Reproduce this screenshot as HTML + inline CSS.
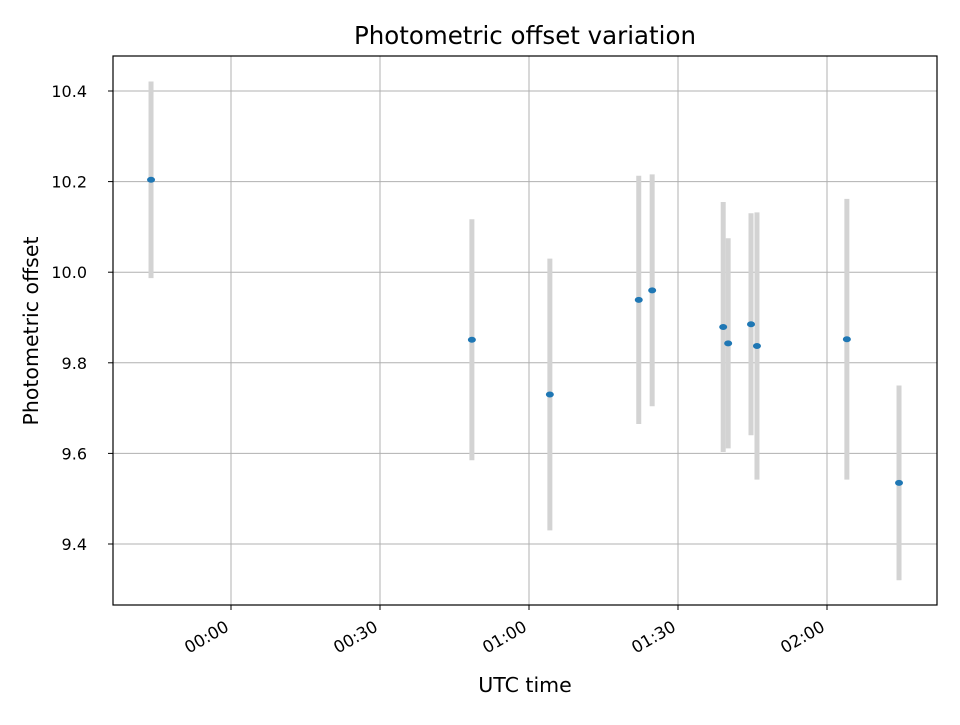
<!DOCTYPE html>
<html><head><meta charset="utf-8"><style>
body{margin:0;background:#fff;font-family:"Liberation Sans","DejaVu Sans",sans-serif;}
svg text{font-family:"DejaVu Sans","Liberation Sans",sans-serif;}
</style></head><body>
<svg id="chart" width="960" height="720" xmlns="http://www.w3.org/2000/svg">
<rect width="960" height="720" fill="#fff"/>
<g id="grid"></g><g id="err"></g><g id="pts"></g><g id="ticks"></g>
<rect x="113" y="56" width="824" height="549" fill="none" stroke="#000" stroke-width="1.2"/>
<text x="525" y="44" font-size="24.5" text-anchor="middle">Photometric offset variation</text>
<text x="525" y="692" font-size="20.5" text-anchor="middle">UTC time</text>
<text transform="translate(38,331) rotate(-90)" font-size="20.5" text-anchor="middle">Photometric offset</text>
</svg>
<script>
// minutes relative to 00:00 UTC
const times=[-16.1,48.5,64.2,82.1,84.8,99.1,100.1,104.7,105.9,124.0,134.5];
const offsets=[10.204,9.851,9.73,9.939,9.96,9.879,9.843,9.885,9.837,9.852,9.535];
const errors=[0.217,0.266,0.3,0.274,0.256,0.276,0.232,0.245,0.295,0.31,0.215];
const yTicks=[9.4,9.6,9.8,10.0,10.2,10.4];
const yTickLabels=["9.4","9.6","9.8","10.0","10.2","10.4"];
const xTicks=[0,30,60,90,120];
const xTickLabels=["00:00","00:30","01:00","01:30","02:00"];

const NS="http://www.w3.org/2000/svg";
const X=m=>231+m*(149/30);
const Y=v=>544-(v-9.4)*453;
function mk(tag,attrs,parent){const e=document.createElementNS(NS,tag);for(const k in attrs)e.setAttribute(k,attrs[k]);document.getElementById(parent).appendChild(e);return e;}

yTicks.forEach((v,i)=>{
  const y=Y(v);
  const g=mk('line',{x1:113,x2:937,y1:y,y2:y,stroke:'#b0b0b0','stroke-width':1},'grid');
  
  
  const t=mk('line',{x1:108,x2:113,y1:y,y2:y,stroke:'#000'},'ticks');
  
  
  const l=mk('text',{x:87,y:y+6,'font-size':16,'text-anchor':'end'},'ticks');
  l.textContent=yTickLabels[i];
  
  
});
xTicks.forEach((m,i)=>{
  const x=X(m);
  const g=mk('line',{x1:x,x2:x,y1:56,y2:605,stroke:'#b0b0b0','stroke-width':1},'grid');
  
  
  const t=mk('line',{x1:x,x2:x,y1:605,y2:610,stroke:'#000'},'ticks');
  
  
  const l=mk('text',{x:0,y:0,'font-size':16.5,'text-anchor':'end',transform:`translate(${x-1},${630}) rotate(-30)`},'ticks');
  l.textContent=xTickLabels[i];
  
  
});
times.forEach((m,i)=>{
  const x=X(m);
  const e=mk('line',{x1:x,x2:x,y1:Y(offsets[i]+errors[i]),y2:Y(offsets[i]-errors[i]),stroke:'#d3d3d3','stroke-width':5},'err');
  
  
  const p=mk('ellipse',{cx:x,cy:Y(offsets[i]),rx:4,ry:3,fill:'#1f77b4'},'pts');
  
  
});
</script>
</body></html>
